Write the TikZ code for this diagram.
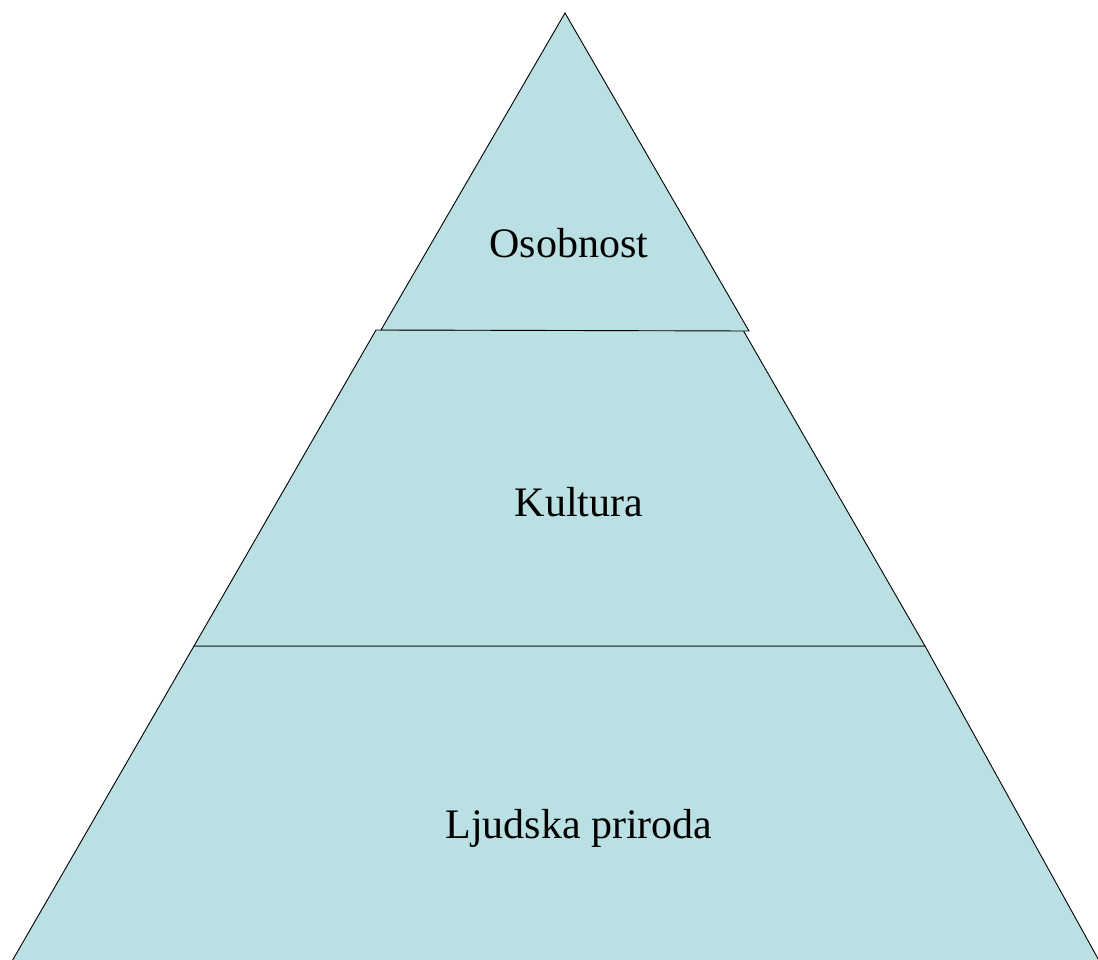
\documentclass[tikz,border=0pt]{standalone}
\usepackage{fontspec}
\setmainfont{Liberation Serif}
\definecolor{pyrfill}{HTML}{BBE0E3}
\begin{document}
\begin{tikzpicture}[x=1pt,y=-1pt,
  layer/.style={fill=pyrfill,draw=black,line width=0.9pt,line join=miter},
  lbl/.style={font=\fontsize{42}{48}\selectfont,text=black,anchor=base,inner sep=0pt}]
\useasboundingbox (0,0) rectangle (1098,960);
\begin{scope}
\clip (0,0) rectangle (1098,960);
\coordinate (apex) at (565,13);
\coordinate (t1) at (381,330);
\coordinate (t2) at (749,331);
\coordinate (m1) at (376,330);
\coordinate (m2) at (743,330);
\coordinate (m3) at (925,646);
\coordinate (m4) at (194,646);
\coordinate (b3) at (1107,975);
\coordinate (b4) at (4,975);
\draw[layer] (m4) -- (m3) -- (b3) -- (b4) -- cycle;
\draw[layer] (m1) -- (m2) -- (m3) -- (m4) -- cycle;
\draw[layer] (apex) -- (t2) -- (t1) -- cycle;
\end{scope}
\node[lbl] (osob) at (569,258) {Osobnost};
\node[lbl] (kult) at (579,516) {Kultura};
\node[lbl] (ljud) at (579,838) {Ljudska priroda};
\end{tikzpicture}
\end{document}
